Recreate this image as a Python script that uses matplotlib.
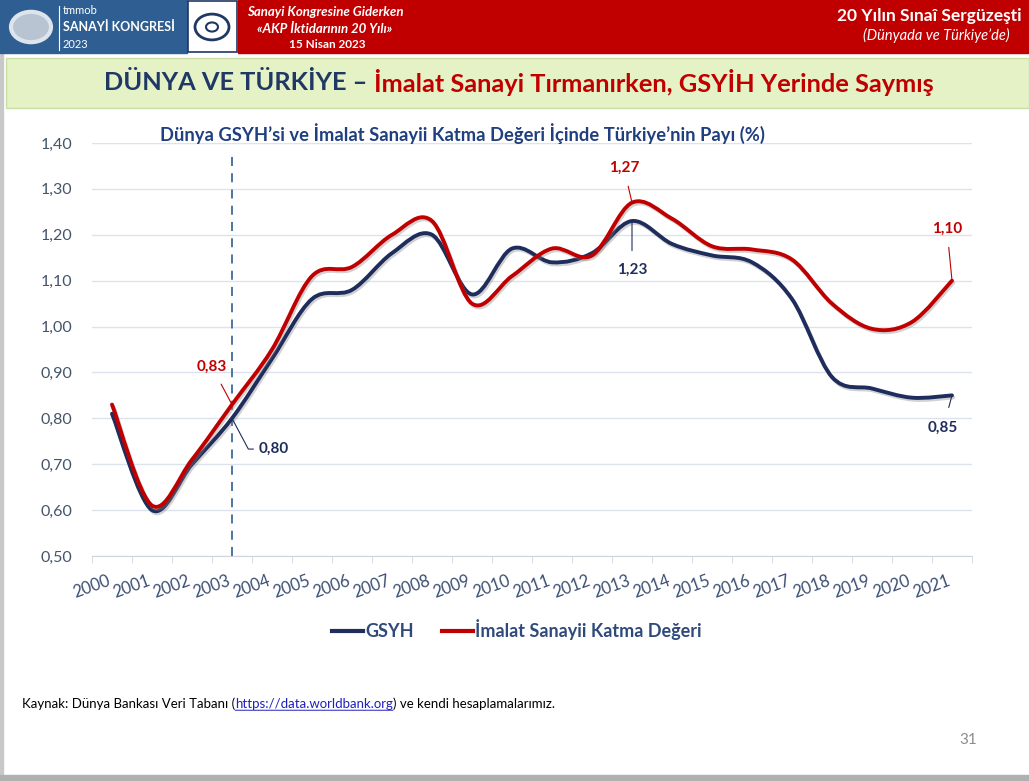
import matplotlib
matplotlib.use('Agg')
import matplotlib.pyplot as plt
from matplotlib.path import Path
from matplotlib.patches import PathPatch, Rectangle, Circle
from matplotlib.lines import Line2D
from matplotlib.text import Annotation
import matplotlib.patheffects as pe

plt.rcParams['font.family'] = ['Lato', 'DejaVu Sans']

years = [str(y) for y in range(2000, 2022)]
gsyh = [0.81, 0.60, 0.70, 0.80, 0.93, 1.06, 1.08, 1.16, 1.20, 1.07, 1.17, 1.14,
        1.16, 1.23, 1.18, 1.155, 1.14, 1.06, 0.89, 0.865, 0.845, 0.85]
imalat = [0.83, 0.61, 0.71, 0.83, 0.95, 1.11, 1.13, 1.20, 1.23, 1.05, 1.11, 1.17,
          1.155, 1.27, 1.235, 1.175, 1.168, 1.146, 1.05, 0.995, 1.01, 1.10]
y_ticks = [0.5, 0.6, 0.7, 0.8, 0.9, 1.0, 1.1, 1.2, 1.3, 1.4]

navy = '#1F2D5C'
red = '#C00000'


def smooth_path(xs, ys):
    # excel-like smoothed line: cubic bezier through the data points
    pts = list(zip(xs, ys))
    n = len(pts)
    verts = [pts[0]]
    codes = [Path.MOVETO]
    for i in range(n - 1):
        p0 = pts[i - 1] if i > 0 else pts[i]
        p1 = pts[i]
        p2 = pts[i + 1]
        p3 = pts[i + 2] if i + 2 < n else pts[i + 1]
        c1 = (p1[0] + (p2[0] - p0[0]) / 6, p1[1] + (p2[1] - p0[1]) / 6)
        c2 = (p2[0] - (p3[0] - p1[0]) / 6, p2[1] - (p3[1] - p1[1]) / 6)
        verts += [c1, c2, p2]
        codes += [Path.CURVE4] * 3
    return Path(verts, codes)


fig = plt.figure(figsize=(10.29, 7.81), dpi=100)
W, H = 1029.0, 781.0


def fx(px):
    return px / W


def fy(py):
    return 1 - py / H


# ---- page frame / header ----
fig.patches.append(Rectangle((0, 0), 1, 1, transform=fig.transFigure, color='white', zorder=-10))
fig.patches.append(Rectangle((fx(0), fy(781)), fx(3), 1, transform=fig.transFigure, color='#C8C8C8', zorder=-9))
fig.patches.append(Rectangle((0, fy(781)), 1, 6 / H, transform=fig.transFigure, color='#B0B0B0', zorder=-9))
fig.patches.append(Rectangle((0, fy(53)), fx(187), 53 / H, transform=fig.transFigure, color='#2F5F92'))
fig.patches.append(Rectangle((fx(238), fy(53)), fx(791), 53 / H, transform=fig.transFigure, color='#C00000'))
fig.patches.append(Rectangle((fx(188), fy(52)), fx(49), 51 / H, transform=fig.transFigure,
                             facecolor='white', edgecolor='#1F3864', lw=1.2))
fig.patches.append(Circle((fx(212), fy(27)), 17 / W, transform=fig.transFigure,
                          facecolor='none', edgecolor='#1F3864', lw=2))
fig.patches.append(Circle((fx(212), fy(27)), 6 / W, transform=fig.transFigure,
                          facecolor='none', edgecolor='#1F3864', lw=1.5))
fig.patches.append(Circle((fx(31), fy(27)), 20 / W, transform=fig.transFigure,
                          facecolor='#B8C4D2', edgecolor='#DDE4EC', lw=3))
fig.add_artist(Line2D([fx(59), fx(59)], [fy(6), fy(50)], transform=fig.transFigure, color='white', lw=0.8))
fig.text(fx(63), fy(10), 'tmmob', color='white', fontsize=8, va='center')
fig.text(fx(63), fy(27), 'SANAYİ KONGRESİ', color='white', fontsize=9, fontweight='bold', va='center')
fig.text(fx(63), fy(44), '2023', color='white', fontsize=8, va='center')
fig.text(fx(325), fy(12), 'Sanayi Kongresine Giderken', color='white', fontsize=9.5, fontweight='bold',
         style='italic', ha='center', va='center')
fig.text(fx(325), fy(29), '«AKP İktidarının 20 Yılı»', color='white', fontsize=9.5, fontweight='bold',
         style='italic', ha='center', va='center')
fig.text(fx(327), fy(45), '15 Nisan 2023', color='white', fontsize=8.5, fontweight='bold',
         ha='center', va='center')
fig.text(fx(1022), fy(16), '20 Yılın Sınaî Sergüzeşti', color='white', fontsize=12.5, fontweight='bold',
         ha='right', va='center')
fig.text(fx(1010), fy(35), '(Dünyada ve Türkiye\u2019de)', color='white', fontsize=10.5,
         style='italic', ha='right', va='center')

# green title banner
fig.patches.append(Rectangle((fx(6), fy(108)), fx(1023), 50 / H, transform=fig.transFigure,
                             facecolor='#E4F2C6', edgecolor='#C9DDA5', lw=1))
t1 = fig.text(fx(104), fy(82), 'DÜNYA VE TÜRKİYE \u2013 ', color='#1F3864', fontsize=18.3,
              fontweight='bold', va='center')
fig.add_artist(Annotation('İmalat Sanayi Tırmanırken, GSYİH Yerinde Saymış', xy=(1, 0.5), xycoords=t1,
                          va='center', ha='left', color='#C00000', fontsize=18.3, fontweight='bold'))

# ---- chart ----
ax = fig.add_axes([fx(92), fy(556), fx(880), (556 - 143) / H])
x = list(range(len(years)))
for ys, col in [(gsyh, navy), (imalat, red)]:
    patch = PathPatch(smooth_path(x, ys), facecolor='none', edgecolor=col, lw=2.8,
                      capstyle='round', joinstyle='round', zorder=3)
    patch.set_path_effects([pe.SimpleLineShadow(offset=(1, -1.5), shadow_color='gray', alpha=0.35),
                            pe.Normal()])
    ax.add_patch(patch)

ax.set_xlim(-0.5, len(years) - 0.5)
ax.set_ylim(0.5, 1.4)
ax.set_yticks(y_ticks)
ax.set_yticklabels([('%.2f' % v).replace('.', ',') for v in y_ticks])
ax.grid(axis='y', color='#DCE3EE', lw=1)
ax.set_axisbelow(True)
for s in ['top', 'right', 'left']:
    ax.spines[s].set_visible(False)
ax.spines['bottom'].set_color('#D0D5DD')
ax.tick_params(axis='y', length=0, pad=14, labelsize=11.5, labelcolor='#44546A')
ax.set_xticks(x)
ax.set_xticklabels(years, rotation=20, ha='right', va='top')
ax.tick_params(axis='x', which='major', length=0, pad=12, labelsize=12, labelcolor='#3B4E72')
ax.set_xticks([i - 0.5 for i in range(len(years) + 1)], minor=True)
ax.tick_params(axis='x', which='minor', length=5, color='#D0D5DD')

# 2003 marker line
ax.plot([3, 3], [0.5, 1.385], ls=(0, (5, 4)), color='#3F6A9A', lw=1.3, zorder=2)

ax.text(0.4205, 1.024, 'Dünya GSYH\u2019si ve İmalat Sanayii Katma Değeri İçinde Türkiye\u2019nin Payı (%)',
        transform=ax.transAxes, ha='center', va='center', fontsize=13.2, fontweight='bold',
        color='#1F3F7F', clip_on=False)

# data labels
lab = dict(fontsize=11, fontweight='bold', ha='center', va='center')
ax.annotate('0,83', xy=(3, imalat[3]), xytext=(2.5, 0.912), color=red,
            arrowprops=dict(arrowstyle='-', color=red, lw=0.8, shrinkA=6, shrinkB=0), **lab)
ax.annotate('0,80', xy=(3, gsyh[3]), xytext=(3.675, 0.733), color=navy, fontsize=11,
            fontweight='bold', ha='left', va='center',
            arrowprops=dict(arrowstyle='-', color=navy, lw=0.8, shrinkA=2, shrinkB=0,
                            connectionstyle='angle,angleA=0,angleB=-62,rad=0'))
ax.annotate('1,27', xy=(13, imalat[13]), xytext=(12.8, 1.345), color=red,
            arrowprops=dict(arrowstyle='-', color=red, lw=0.8, shrinkA=6, shrinkB=1), **lab)
ax.annotate('1,23', xy=(13, gsyh[13]), xytext=(13, 1.123), color=navy,
            arrowprops=dict(arrowstyle='-', color=navy, lw=0.8, shrinkA=7, shrinkB=1), **lab)
ax.annotate('1,10', xy=(21, imalat[21]), xytext=(20.875, 1.212), color=red,
            arrowprops=dict(arrowstyle='-', color=red, lw=0.8, shrinkA=6, shrinkB=0), **lab)
ax.annotate('0,85', xy=(21, gsyh[21]), xytext=(20.78, 0.779), color=navy,
            arrowprops=dict(arrowstyle='-', color=navy, lw=0.8, shrinkA=8, shrinkB=0), **lab)

handles = [Line2D([], [], color=navy, lw=3), Line2D([], [], color=red, lw=3)]
leg = fig.legend(handles, ['GSYH', 'İmalat Sanayii Katma Değeri'], loc='center',
                 bbox_to_anchor=(fx(517), fy(630)), ncol=2, frameon=False, handlelength=1.7,
                 handletextpad=0.1, columnspacing=1.6, prop=dict(size=13, weight='bold'))
for t in leg.get_texts():
    t.set_color('#2F4A7A')

# source / page number
s1 = fig.text(fx(22), fy(704), 'Kaynak: Dünya Bankası Veri Tabanı (', fontsize=9.5, color='black', va='center')
link = Annotation('https://data.worldbank.org', xy=(1, 0.5), xycoords=s1,
                  va='center', ha='left', fontsize=9.5, color='#1F1FBF')
fig.add_artist(link)
fig.add_artist(Annotation(') ve kendi hesaplamalarımız.', xy=(1, 0.5), xycoords=link,
                          va='center', ha='left', fontsize=9.5, color='black'))
fig.add_artist(Annotation('', xy=(0, -0.02), xycoords=link, xytext=(1, -0.02), textcoords=link,
                          arrowprops=dict(arrowstyle='-', color='#1F1FBF', lw=0.7,
                                          shrinkA=0, shrinkB=0)))
fig.text(fx(968), fy(740), '31', fontsize=11, color='#8C8C8C', ha='center', va='center')

plt.savefig('out.png', dpi=100)
